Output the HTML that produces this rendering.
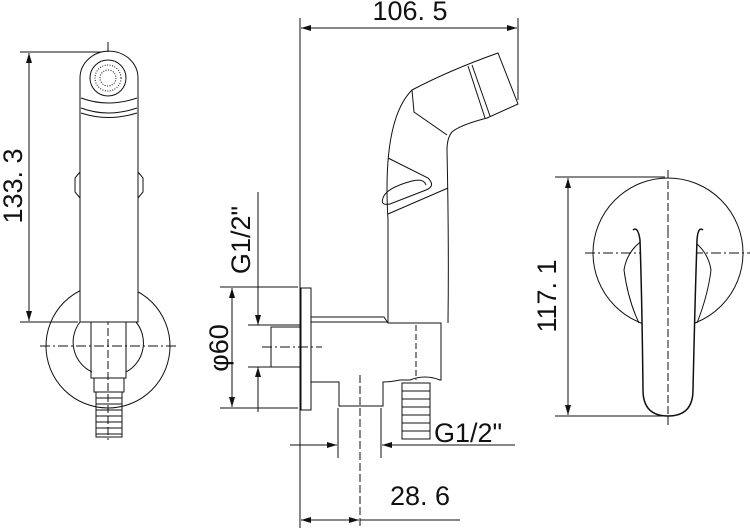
<!DOCTYPE html>
<html><head><meta charset="utf-8"><style>
html,body{margin:0;padding:0;background:#fff;}
svg{display:block;}
text{font-family:"Liberation Sans",sans-serif;fill:#111;}
</style></head><body>
<svg width="750" height="528" viewBox="0 0 750 528" xmlns="http://www.w3.org/2000/svg">
<defs>
<marker id="a" viewBox="0 0 10 6" refX="10" refY="3" markerWidth="10" markerHeight="6" orient="auto-start-reverse" markerUnits="userSpaceOnUse"><path d="M0,0 L10,3 L0,6z" fill="#111"/></marker>
</defs>
<g fill="none" stroke="#111" stroke-width="1">
<!-- LEFT VIEW -->
<line x1="108" y1="42" x2="108" y2="440" stroke-dasharray="8,3"/>
<line x1="40" y1="346" x2="176" y2="346" stroke-dasharray="10,3,2,3"/>
<line x1="20" y1="52" x2="104" y2="52"/>
<line x1="20" y1="322" x2="78" y2="322"/>
<line x1="29" y1="53" x2="29" y2="321" marker-start="url(#a)" marker-end="url(#a)"/>
<circle cx="108" cy="346" r="62"/>
<path d="M80,322 A33,33 0 0 0 92,372 M136,322 A33,33 0 0 1 126,372"/>
<path d="M80,322 V78 A28,26 0 0 1 138,78 V322 Z" fill="#fff"/>
<circle cx="108" cy="78" r="18"/>
<circle cx="108" cy="78" r="13" stroke-dasharray="1,1.5"/>
<circle cx="108" cy="78" r="8" stroke-dasharray="1,1.5"/>
<path d="M81,98 Q108,108 137,98 M81,108 Q108,118 137,108 M81,113 Q108,122 137,113"/>
<path d="M80,172 L75,178 L75,192 L80,198 M138,172 L143,178 L143,192 L138,198"/>
<rect x="91" y="322" width="35" height="56"/>
<rect x="94" y="378" width="30" height="14"/>
<rect x="96" y="392" width="26" height="45"/>
<path d="M96,398H122M96,404H122M96,410H122M96,416H122M96,422H122M96,428H122M96,434H122"/>
<line x1="108" y1="42" x2="108" y2="52"/>
<!-- MIDDLE VIEW -->
<line x1="300" y1="18" x2="300" y2="528"/>
<line x1="518" y1="18" x2="518" y2="100"/>
<line x1="301" y1="28" x2="517" y2="28" marker-start="url(#a)" marker-end="url(#a)"/>
<rect x="301" y="288" width="10" height="122"/>
<line x1="220" y1="287" x2="298" y2="287"/>
<line x1="220" y1="408" x2="298" y2="408"/>
<line x1="232" y1="288" x2="232" y2="407" marker-start="url(#a)" marker-end="url(#a)"/>
<line x1="258" y1="192" x2="258" y2="325" marker-end="url(#a)"/>
<line x1="258" y1="367" x2="258" y2="412" marker-start="url(#a)"/>
<line x1="248" y1="325" x2="300" y2="325"/>
<line x1="248" y1="367" x2="300" y2="367"/>
<rect x="271" y="327" width="30" height="40"/>
<line x1="262" y1="347" x2="322" y2="347" stroke-dasharray="10,3,2,3"/>
<path d="M311,317 H384 L388,323 H441 V380 H440 Q425,374 410,380 H400 Q390,382 383,382 V406 H339 V382 H311"/>
<line x1="311" y1="322" x2="388" y2="322"/>
<path d="M388,323 V220 Q382,120 412,90 Q450,70 498,53 L518,104 L487,118 Q460,125 452,132 Q447,138 447,150 Q449,240 448,323"/>
<path d="M412,90 L414,112 L447,135"/>
<path d="M468,66 L485,118 M472,65 L490,116"/>
<path d="M388,158 L428,178 Q436,186 426,190 L390,204 Q380,206 383,198 Q386,188 412,181 Q424,178 426,185 M388,214 L448,188"/>
<rect x="402" y="383" width="28" height="56"/>
<path d="M402,391H430M402,399H430M402,407H430M402,415H430M402,423H430M402,431H430"/>
<line x1="416" y1="325" x2="416" y2="380" stroke-dasharray="6,3"/>
<line x1="360" y1="375" x2="360" y2="528" stroke-dasharray="8,3"/>
<line x1="338" y1="408" x2="338" y2="458"/>
<line x1="381" y1="408" x2="381" y2="458"/>
<line x1="290" y1="445" x2="337" y2="445" marker-end="url(#a)"/>
<line x1="382" y1="445" x2="515" y2="445" marker-start="url(#a)"/>
<line x1="301" y1="520" x2="359" y2="520" marker-start="url(#a)" marker-end="url(#a)"/>
<line x1="360" y1="520" x2="460" y2="520"/>
<!-- RIGHT VIEW -->
<line x1="555" y1="177" x2="665" y2="177"/>
<line x1="555" y1="416" x2="665" y2="416"/>
<line x1="568" y1="178" x2="568" y2="415" marker-start="url(#a)" marker-end="url(#a)"/>
<line x1="668" y1="170" x2="668" y2="425" stroke-dasharray="8,3"/>
<line x1="585" y1="253" x2="750" y2="253" stroke-dasharray="10,3,2,3"/>
<circle cx="668" cy="253" r="75"/>
<path d="M639,323 Q628,300 624,270 A44,44 0 0 1 711,270 Q708,295 697,323"/>
<path d="M633,230 Q638,226 640,240 Q642,300 643,390 Q643,416 668,416 Q693,416 693,390 Q695,300 697,240 Q698,226 703,230" fill="#fff" stroke-width="1.5"/>
<line x1="668" y1="230" x2="668" y2="425" stroke-dasharray="8,3"/>
</g>
<g font-size="27">
<text transform="translate(22,186) rotate(-90)" text-anchor="middle">133. 3</text>
<text x="410" y="20" text-anchor="middle">106. 5</text>
<text transform="translate(250,240) rotate(-90)" text-anchor="middle">G1/2"</text>
<text transform="translate(228,348) rotate(-90)" text-anchor="middle">φ60</text>
<text x="434" y="442">G1/2"</text>
<text x="420" y="505" text-anchor="middle">28. 6</text>
<text transform="translate(556,296) rotate(-90)" text-anchor="middle">117. 1</text>
</g>
</svg>
</body></html>
